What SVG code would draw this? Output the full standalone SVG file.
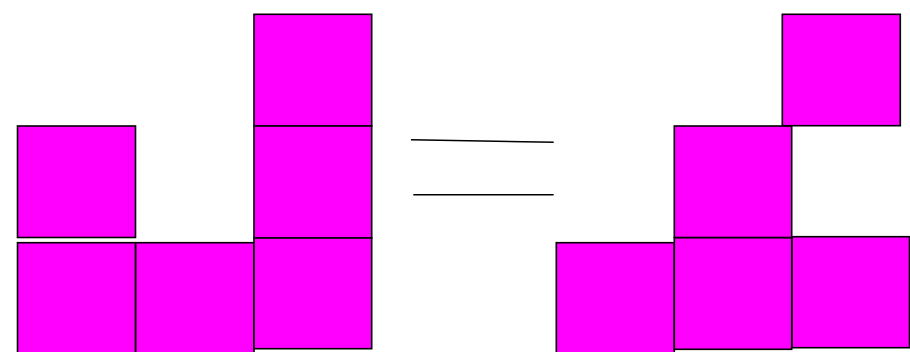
<svg xmlns="http://www.w3.org/2000/svg" width="910" height="352" viewBox="0 0 910 352">
<style>
.sq{fill:#ff00ff;stroke:#000;stroke-width:1.6}
.ln{stroke:#000;stroke-width:1.6;fill:none}
</style>
<rect width="910" height="352" fill="#fff"/>
<g id="left">
<rect id="l1" class="sq" x="17.5" y="126" width="118" height="111.5"/>
<rect id="l2" class="sq" x="17.5" y="242.7" width="118" height="112"/>
<rect id="l3" class="sq" x="135.7" y="242.7" width="118.3" height="112"/>
<rect id="l4" class="sq" x="254" y="14.3" width="117.7" height="111.7"/>
<rect id="l5" class="sq" x="254" y="126" width="117.7" height="112"/>
<rect id="l6" class="sq" x="254" y="238" width="117.7" height="110.7"/>
</g>
<g id="connectors">
<line class="ln" x1="411" y1="139.7" x2="553.7" y2="142.3"/>
<line class="ln" x1="413.3" y1="194.7" x2="553.7" y2="194.7"/>
</g>
<g id="right">
<rect id="r1" class="sq" x="556.3" y="242.7" width="118" height="112"/>
<rect id="r2" class="sq" x="674.3" y="126" width="117.4" height="111.5"/>
<rect id="r3" class="sq" x="674.3" y="237.8" width="117.4" height="111.5"/>
<rect id="r4" class="sq" x="782.3" y="14.3" width="118" height="111.4"/>
<rect id="r5" class="sq" x="792" y="236.7" width="117.5" height="111"/>
</g>
</svg>
